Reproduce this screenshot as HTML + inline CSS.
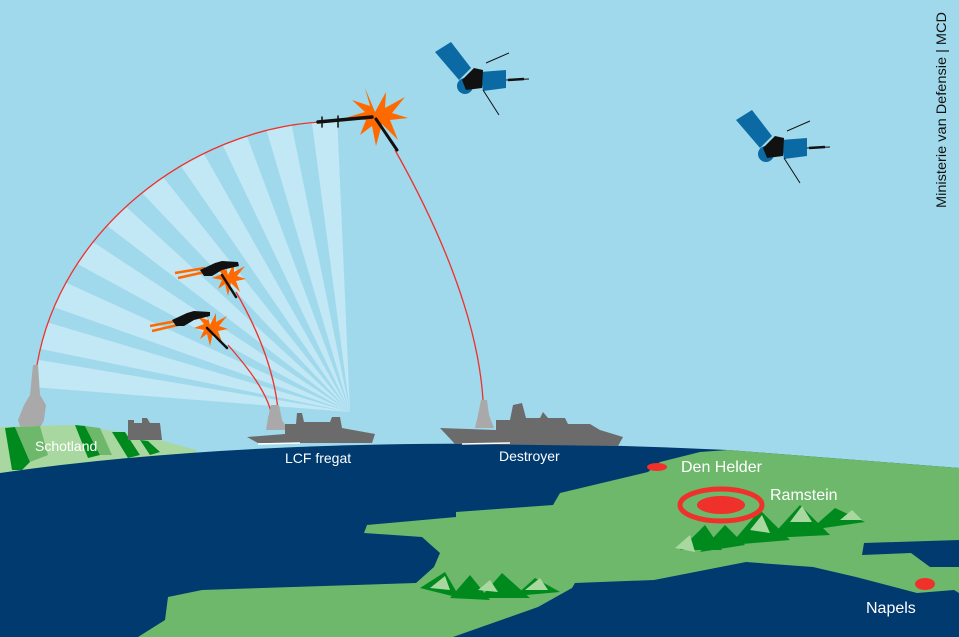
<!DOCTYPE html>
<html><head><meta charset="utf-8"><style>
html,body{margin:0;padding:0;background:#a0d9ec}
svg{display:block}
text{font-family:"Liberation Sans",sans-serif}
</style></head><body>
<svg width="959" height="637" viewBox="0 0 959 637" xmlns="http://www.w3.org/2000/svg">
<rect width="959" height="637" fill="#a0d9ec"/>
<defs>
<clipPath id="arc"><path d="M37,365 C60,230 190,130 320,122 L352,120 L352,420 L37,420 Z"/></clipPath>
</defs>
<g clip-path="url(#arc)" fill="#c2e7f5">
<polygon points="350,412 332.6,12.4 297.8,15.4"/>
<polygon points="350,412 270.2,20 236.4,28.5"/>
<polygon points="350,412 209.9,37.3 177.8,51"/>
<polygon points="350,412 153,63.8 123.4,82.4"/>
<polygon points="350,412 101,99 74.6,121.8"/>
<polygon points="350,412 55.1,141.8 32.6,168.5"/>
<polygon points="350,412 16.4,191.2 -1.5,221.1"/>
<polygon points="350,412 -14,246.1 -27,278.5"/>
<polygon points="350,412 -33.5,298.4 -42,332.2"/>
<polygon points="350,412 -44.5,346 -48.8,380.6"/>
</g>
<g fill="none" stroke="#f0302a" stroke-width="1.3">
<path d="M37,365 C60,230 190,130 320,122"/>
<path d="M395,150 C440,230 478,320 483,400"/>
<path d="M236,292 C258,330 274,370 278,410"/>
<path d="M228,345 C250,370 266,392 271,412"/>
</g>
<g fill="#a9a9a9">
<path d="M33,365 L38,365 L40,395 L46,405 L44,420 L38,432 L22,432 L18,420 L24,405 L30,395 Z"/>
<path d="M271,405 L279,405 L282,420 L288,430 L266,430 L268,418 Z"/>
<path d="M481,400 L487,400 L489,415 L494,428 L475,428 L478,415 Z"/>
</g>
<path d="M0,427 L40,426 L73,425 L128,433 L160,440 L196,450 L196,470 L0,473 Z" fill="#a8d8a0"/>
<g fill="#008a1e">
<path d="M5,428 L15,427 L30,462 L22,470 L12,470 Z"/>
<path d="M75,425 L85,426 L100,455 L88,458 Z"/>
<path d="M112,432 L125,432 L140,455 L128,458 Z"/>
<path d="M140,440 L148,441 L160,452 L150,455 Z"/>
</g>
<g fill="#6db86b">
<path d="M15,427 L40,426 L48,455 L30,462 Z"/>
<path d="M85,426 L100,428 L112,455 L100,455 Z"/>
</g>
<path d="M128,420 L134,420 L134,423 L142,423 L142,418 L147,418 L150,423 L160,423 L162,440 L128,440 Z" fill="#6b6b6b"/>
<path d="M0,473 Q300,430 728,450 L728,637 L0,637 Z" fill="#003a6e"/>
<path d="M700,450 L728,450 L959,468 L959,637 L700,637 Z" fill="#003a6e"/>
<path d="M728,450 L959,468 L959,540 L864,543 L862,555 L911,553 L930,567 L959,567 L959,593 L954,590 L917,593 L856,577 L813,567 L746,562 L654,580 L575,583 L572,588 L538,607 L453,637 L138,637 L165,620 L168,597 L202,590 L416,583 L434,567 L440,553 L422,537 L364,533 L367,525 L456,517 L456,512 L553,505 L560,493 L648,472 L660,462 L700,452 Z" fill="#6db86b"/>
<g fill="#008a1e">
<polygon points="420,588 445,572 460,598"/><polygon points="450,598 470,575 490,600"/><polygon points="480,598 502,573 530,598"/><polygon points="515,596 535,578 560,592"/>
<polygon points="680,550 705,525 722,550"/><polygon points="700,552 725,525 745,545"/><polygon points="730,545 760,510 790,540"/><polygon points="770,538 800,505 830,535"/><polygon points="810,530 835,508 865,522"/>
</g>
<g fill="#a8d8a0">
<polygon points="430,588 445,576 450,590"/><polygon points="478,590 490,580 498,592"/><polygon points="525,590 540,578 548,590"/>
<polygon points="675,548 690,535 695,552"/><polygon points="750,530 762,515 770,533"/><polygon points="790,522 802,506 812,522"/><polygon points="840,520 852,510 862,520"/>
</g>
<g fill="#6b6b6b">
<path d="M247,437 L285,434 L285,424 L296,424 L297,413 L302,413 L304,422 L330,422 L332,417 L340,417 L342,428 L375,434 L372,443 L258,443 Z"/>
<path d="M440,428 L496,430 L496,420 L510,420 L513,405 L522,403 L526,418 L540,418 L543,412 L548,418 L565,418 L568,424 L590,424 L600,430 L623,437 L618,446 L455,444 Z"/>
</g>
<path d="M258,444 L300,443" stroke="#fff" stroke-width="1.5"/>
<path d="M462,444 L510,443" stroke="#fff" stroke-width="1.5"/>
<ellipse cx="657" cy="467" rx="10" ry="4" fill="#f0302a"/>
<ellipse cx="721" cy="505" rx="41" ry="16" fill="none" stroke="#f0302a" stroke-width="5"/>
<ellipse cx="721" cy="505" rx="24" ry="9" fill="#f0302a"/>
<ellipse cx="925" cy="584" rx="10" ry="6" fill="#f0302a"/>
<g fill="#fff">
<text x="35" y="451" font-size="14">Schotland</text>
<text x="285" y="463" font-size="14">LCF fregat</text>
<text x="499" y="461" font-size="14">Destroyer</text>
<text x="681" y="472" font-size="16">Den Helder</text>
<text x="770" y="500" font-size="16">Ramstein</text>
<text x="866" y="613" font-size="16">Napels</text>
</g>
<g fill="#ff6a00">
<polygon points="375,112 386,92 385,108 405,97 392,113 408,118 390,120 398,140 382,124 376,146 372,126 360,135 366,120 345,118 365,112 352,100 370,106 365,88"/>
<polygon points="228,275 234,263 234,272 245,266 237,276 246,279 236,281 240,292 231,283 228,296 225,284 218,289 222,280 212,278 222,274 216,267 226,270 224,260"/>
<polygon points="210,325 216,313 216,322 227,316 219,326 228,329 218,331 222,342 213,333 210,346 207,334 200,339 204,330 194,328 204,324 198,317 208,320 206,310"/>
<path d="M175,273 L205,268 M178,278 L205,272 M150,326 L182,320 M152,331 L182,324" stroke="#ff6a00" stroke-width="2.5"/>
</g>
<g stroke="#111" stroke-linecap="round">
<path d="M318,122 L372,117" stroke-width="3.5"/>
<path d="M376,119 L397,150" stroke-width="3"/>
<path d="M222,275 L236,297" stroke-width="2.5"/>
<path d="M207,328 L227,348" stroke-width="2.5"/>
<path d="M338,116 L338,127 M322,117 L322,127" stroke-width="1.5"/>
</g>
<g fill="#111">
<path d="M200,270 L215,263 L222,261 L238,262 L239,266 L222,270 L212,276 L204,276 Z"/>
<path d="M172,320 L187,313 L194,311 L210,312 L210,316 L194,320 L184,326 L176,326 Z"/>
</g>
<g>
<polygon points="435,52 451,42 471,68 459,80" fill="#0b6aa3"/>
<polygon points="480,72 506,70 506,88 483,91" fill="#0b6aa3"/>
<circle cx="465" cy="86" r="8" fill="#0b6aa3"/>
<polygon points="462,80 474,68 483,70 482,88 466,90" fill="#111"/>
<path d="M486,63 L509,53 M483,90 L499,115 M506,80 L529,79" stroke="#111" stroke-width="1"/>
<path d="M508,80 L524,79" stroke="#111" stroke-width="2.5"/>
</g>
<g transform="translate(301,68)">
<polygon points="435,52 451,42 471,68 459,80" fill="#0b6aa3"/>
<polygon points="480,72 506,70 506,88 483,91" fill="#0b6aa3"/>
<circle cx="465" cy="86" r="8" fill="#0b6aa3"/>
<polygon points="462,80 474,68 483,70 482,88 466,90" fill="#111"/>
<path d="M486,63 L509,53 M483,90 L499,115 M506,80 L529,79" stroke="#111" stroke-width="1"/>
<path d="M508,80 L524,79" stroke="#111" stroke-width="2.5"/>
</g>
<text transform="translate(946,208) rotate(-90)" font-size="14" textLength="196" lengthAdjust="spacingAndGlyphs" fill="#111">Ministerie van Defensie | MCD</text>
</svg>
</body></html>
